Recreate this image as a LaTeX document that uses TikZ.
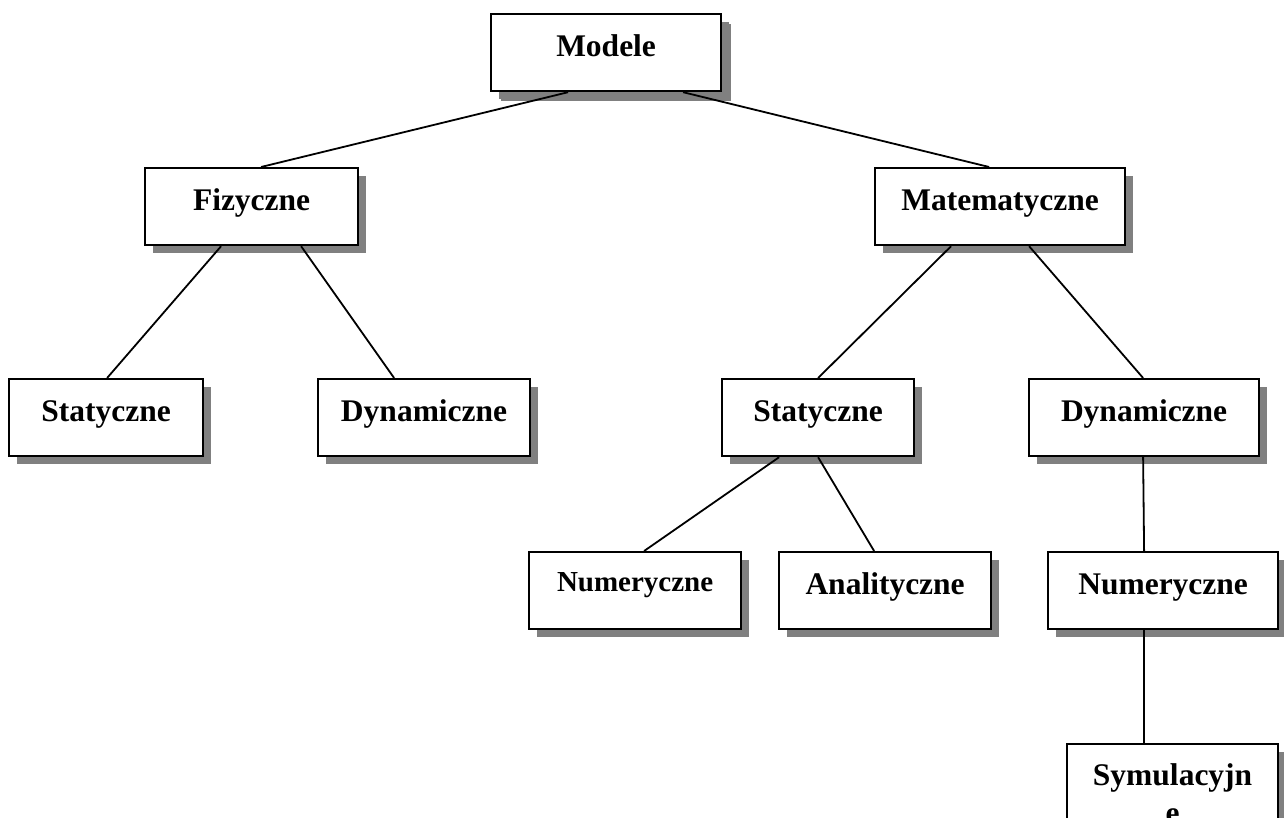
\documentclass[tikz,border=0pt]{standalone}
\usepackage{fontspec}
\setmainfont{Liberation Serif}
\usetikzlibrary{shadows}
\begin{document}
\begin{tikzpicture}[x=1pt,y=-1pt,
  box/.style={draw, line width=2.2pt, fill=white, inner sep=0pt, anchor=north west,
    minimum height=77pt, text height=42pt, text depth=35pt,
    font=\fontsize{31.5}{36}\selectfont\bfseries,
    drop shadow={shadow xshift=8pt, shadow yshift=-8pt, fill=black!50, opacity=1}},
  link/.style={line width=1.8pt}]
\useasboundingbox (0,0) rectangle (1284,818);
\clip (0,0) rectangle (1284,818);
\node[box, minimum width=230pt, minimum height=76pt,
  drop shadow={shadow xshift=10pt, shadow yshift=-10pt, fill=black!50, opacity=1}] (mod) at (490,13) {Modele};
\node[box, minimum width=213pt] (fiz) at (144,167) {Fizyczne};
\node[box, minimum width=250pt] (mat) at (874,167) {Matematyczne};
\node[box, minimum width=194pt] (statL) at (8,378) {Statyczne};
\node[box, minimum width=212pt] (dynL) at (317,378) {Dynamiczne};
\node[box, minimum width=192pt] (statM) at (721,378) {Statyczne};
\node[box, minimum width=230pt] (dynR) at (1028,378) {Dynamiczne};
\node[box, minimum width=212pt, text height=39pt, text depth=38pt, font=\fontsize{29}{34}\selectfont\bfseries] (numM) at (528,551) {Numeryczne};
\node[box, minimum width=212pt] (anal) at (778,551) {Analityczne};
\node[box, minimum width=230pt] (numR) at (1047,551) {Numeryczne};
\node[box, minimum width=211pt, text width=211pt, align=center, text height=41pt, text depth=70pt, font=\fontsize{31.5}{38}\selectfont\bfseries] (sym) at (1066,743) {Symulacyjn\\e};
\draw[link] ([xshift=-38pt]mod.south) -- ([xshift=9.5pt]fiz.north);
\draw[link] ([xshift=77pt]mod.south) -- ([xshift=-11pt]mat.north);
\draw[link] ([xshift=-30.5pt]fiz.south) -- ([xshift=1pt]statL.north);
\draw[link] ([xshift=49.5pt]fiz.south) -- ([xshift=-30pt]dynL.north);
\draw[link] ([xshift=-49pt]mat.south) -- (statM.north);
\draw[link] ([xshift=29pt]mat.south) -- ([xshift=-1pt]dynR.north);
\draw[link] ([xshift=-39pt]statM.south) -- ([xshift=9pt]numM.north);
\draw[link] (statM.south) -- ([xshift=-11pt]anal.north);
\draw[link] ([xshift=-1pt]dynR.south) -- ([xshift=-19pt]numR.north);
\draw[link] ([xshift=-19pt]numR.south) -- ([xshift=-28.5pt]sym.north);
\end{tikzpicture}
\end{document}
